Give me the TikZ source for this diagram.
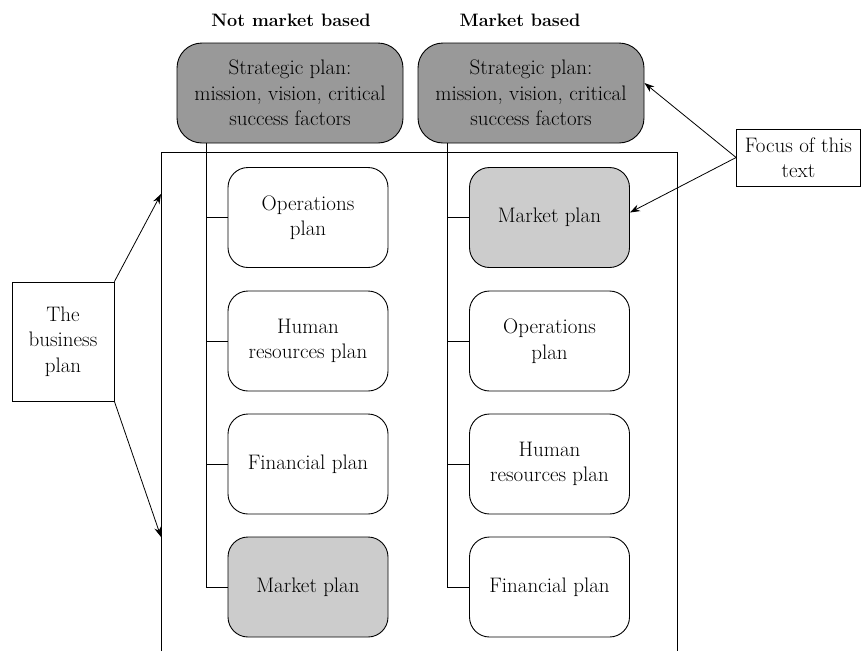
\documentclass[tikz,border=0pt]{standalone}
\usepackage{fontspec}
\setmainfont{Latin Modern Roman}
\usetikzlibrary{arrows.meta,calc}
\definecolor{stratgray}{HTML}{999999}
\definecolor{mktgray}{HTML}{CCCCCC}
\begin{document}
\begin{tikzpicture}[x=1pt,y=-1pt,
  every node/.style={font=\fontsize{21}{25.5}\selectfont, align=center, inner sep=0pt},
  stratbox/.style={draw, line width=0.9pt, rounded corners=25pt, fill=stratgray, minimum width=226pt, minimum height=100pt},
  planbox/.style={draw, line width=0.9pt, rounded corners=20pt, fill=white, minimum width=160pt, minimum height=100pt},
  mktbox/.style={planbox, fill=mktgray},
  labelbox/.style={draw, line width=0.8pt, fill=white},
  title/.style={font=\bfseries\fontsize{18}{20}\selectfont},
  tree/.style={line width=0.8pt},
  arr/.style={line width=0.8pt, -{Stealth[length=10pt,width=7pt]}}
]
\useasboundingbox (0,0) rectangle (862,651);

% the business plan frame (open at the bottom)
\draw[line width=0.8pt] (161,651) -- (161,152) -- (677,152) -- (677,651);
\coordinate (bpTop) at (161,194);
\coordinate (bpBot) at (161,537);

% titles
\node[title] (tNot) at (291,20) {Not market based};
\node[title] (tMkt) at (520,20) {Market based};

% strategic plans
\node[stratbox] (sL) at (290,93) {Strategic plan:\\mission, vision, critical\\success factors};
\node[stratbox] (sR) at (531,93) {Strategic plan:\\mission, vision, critical\\success factors};

% left column
\node[planbox] (L1) at (308,217.5) {Operations\\plan};
\node[planbox] (L2) at (308,341) {Human\\resources plan};
\node[planbox] (L3) at (308,464) {Financial plan};
\node[mktbox]  (L4) at (308,587) {Market plan};

% right column
\node[mktbox]  (R1) at (549.5,217.5) {Market plan};
\node[planbox] (R2) at (549.5,341) {Operations\\plan};
\node[planbox] (R3) at (549.5,464) {Human\\resources plan};
\node[planbox] (R4) at (549.5,587) {Financial plan};

% trees
\coordinate (tL) at ([xshift=30pt]sL.south west);
\coordinate (tR) at ([xshift=30pt]sR.south west);
\draw[tree] (tL) |- (L4.west);
\draw[tree] (tR) |- (R4.west);
\foreach \n in {L1,L2,L3} \draw[tree] (\n.west) -- (\n.west -| tL);
\foreach \n in {R1,R2,R3} \draw[tree] (\n.west) -- (\n.west -| tR);

% side labels
\node[labelbox, minimum width=102pt, minimum height=119pt] (biz) at (63,341.5) {The\\business\\plan};
\node[labelbox, minimum width=124pt, minimum height=57pt] (foc) at (798.5,157.5) {Focus of this\\text};

\draw[arr] (biz.north east) -- (bpTop);
\draw[arr] (biz.south east) -- (bpBot);
\draw[arr] (foc.west) -- ([yshift=10pt]sR.east);
\draw[arr] (foc.west) -- ([yshift=5pt]R1.east);
\end{tikzpicture}
\end{document}
